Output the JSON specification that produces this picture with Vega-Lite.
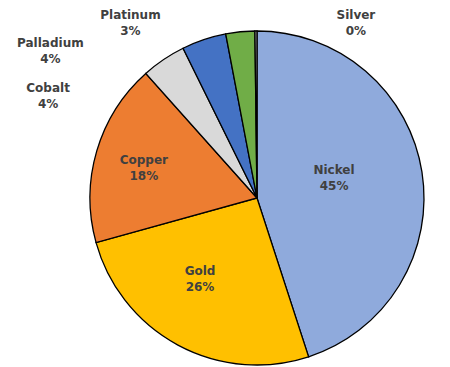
{
  "$schema": "https://vega.github.io/schema/vega-lite/v6.json",
  "width": 334,
  "height": 334,
  "autosize": {"type": "none"},
  "padding": {"left": 90, "top": 31, "right": 26, "bottom": 2},
  "background": "white",
  "data": {"values": [
    {"metal": "Nickel", "share": 45.0},
    {"metal": "Gold", "share": 25.7},
    {"metal": "Copper", "share": 17.7},
    {"metal": "Cobalt", "share": 4.3},
    {"metal": "Palladium", "share": 4.3},
    {"metal": "Platinum", "share": 2.8},
    {"metal": "Silver", "share": 0.2}
  ]},
  "transform": [
    {"window": [{"op": "row_number", "as": "rank"}]},
    {"stack": "share", "groupby": [], "sort": [{"field": "rank", "order": "ascending"}], "as": ["start", "end"]},
    {"calculate": "(datum.start + datum.end) / 2", "as": "mid"},
    {"calculate": "datum.metal + '\\n' + format(datum.share, '.0f') + '%'", "as": "label"}
  ],
  "layer": [
    {"mark": {"type": "arc", "stroke": "#000000", "strokeWidth": 1.3},
     "encoding": {
       "theta": {"field": "start", "type": "quantitative", "scale": {"domain": [0, 100]}},
       "theta2": {"field": "end"},
       "color": {
         "field": "metal", "type": "nominal", "legend": null,
         "scale": {
           "domain": ["Nickel", "Gold", "Copper", "Cobalt", "Palladium", "Platinum", "Silver"],
           "range": ["#8FAADC", "#FFC000", "#ED7D31", "#D9D9D9", "#4472C4", "#70AD47", "#A5A5A5"]
         }
       }
     }},
    {"transform": [{"filter": "datum.metal == 'Nickel'"}],
     "mark": {"type": "text", "radius": 78, "dy": -16, "lineBreak": "\n", "font": "DejaVu Sans", "fontWeight": "bold", "fontSize": 12, "lineHeight": 16, "fill": "#404040", "baseline": "middle", "align": "center"},
     "encoding": {"theta": {"field": "mid", "type": "quantitative", "scale": {"domain": [0, 100]}}, "text": {"field": "label"}}},
    {"transform": [{"filter": "datum.metal == 'Gold'"}],
     "mark": {"type": "text", "radius": 95, "dx": -12, "dy": -11, "lineBreak": "\n", "font": "DejaVu Sans", "fontWeight": "bold", "fontSize": 12, "lineHeight": 16, "fill": "#404040", "baseline": "middle", "align": "center"},
     "encoding": {"theta": {"field": "mid", "type": "quantitative", "scale": {"domain": [0, 100]}}, "text": {"field": "label"}}},
    {"transform": [{"filter": "datum.metal == 'Copper'"}],
     "mark": {"type": "text", "radius": 118, "dy": -5, "lineBreak": "\n", "font": "DejaVu Sans", "fontWeight": "bold", "fontSize": 12, "lineHeight": 16, "fill": "#404040", "baseline": "middle", "align": "center"},
     "encoding": {"theta": {"field": "mid", "type": "quantitative", "scale": {"domain": [0, 100]}}, "text": {"field": "label"}}},
    {"transform": [{"filter": "datum.metal == 'Cobalt'"}],
     "mark": {"type": "text", "radius": 175, "dx": -111, "dy": 35, "lineBreak": "\n", "font": "DejaVu Sans", "fontWeight": "bold", "fontSize": 12, "lineHeight": 16, "fill": "#404040", "baseline": "middle", "align": "center"},
     "encoding": {"theta": {"field": "mid", "type": "quantitative", "scale": {"domain": [0, 100]}}, "text": {"field": "label"}}},
    {"transform": [{"filter": "datum.metal == 'Palladium'"}],
     "mark": {"type": "text", "radius": 175, "dx": -151, "dy": 11, "lineBreak": "\n", "font": "DejaVu Sans", "fontWeight": "bold", "fontSize": 12, "lineHeight": 16, "fill": "#404040", "baseline": "middle", "align": "center"},
     "encoding": {"theta": {"field": "mid", "type": "quantitative", "scale": {"domain": [0, 100]}}, "text": {"field": "label"}}},
    {"transform": [{"filter": "datum.metal == 'Platinum'"}],
     "mark": {"type": "text", "radius": 175, "dx": -109, "dy": -9, "lineBreak": "\n", "font": "DejaVu Sans", "fontWeight": "bold", "fontSize": 12, "lineHeight": 16, "fill": "#404040", "baseline": "middle", "align": "center"},
     "encoding": {"theta": {"field": "mid", "type": "quantitative", "scale": {"domain": [0, 100]}}, "text": {"field": "label"}}},
    {"transform": [{"filter": "datum.metal == 'Silver'"}],
     "mark": {"type": "text", "radius": 175, "dx": 100, "dy": -8, "lineBreak": "\n", "font": "DejaVu Sans", "fontWeight": "bold", "fontSize": 12, "lineHeight": 16, "fill": "#404040", "baseline": "middle", "align": "center"},
     "encoding": {"theta": {"field": "mid", "type": "quantitative", "scale": {"domain": [0, 100]}}, "text": {"field": "label"}}}
  ]
}
